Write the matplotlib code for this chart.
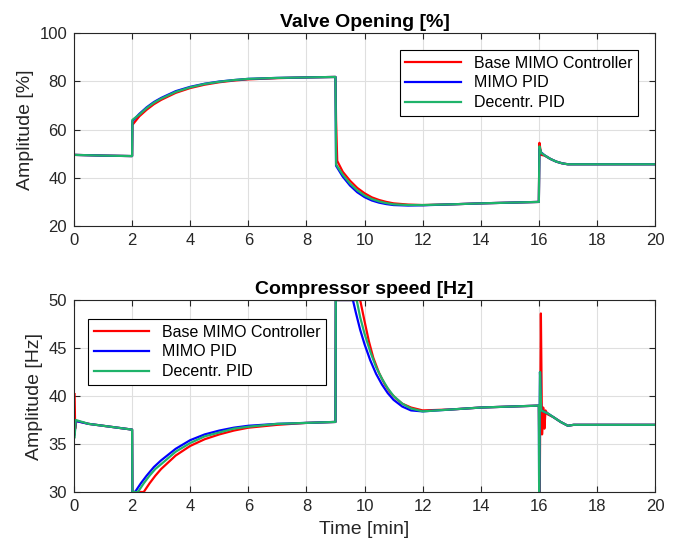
import matplotlib
matplotlib.use("Agg")
import matplotlib.pyplot as plt

plt.rcParams['font.family'] = ['Liberation Sans', 'DejaVu Sans']

# Valve opening [%] - (time, value) samples
valve_red_t = [0, 1, 2, 2.01, 2.05, 2.25, 2.5, 2.75, 3, 3.5, 4, 4.5, 5, 5.5, 6, 7, 8, 9,
               9.02, 9.06, 9.25, 9.5, 9.75, 10, 10.25, 10.5, 10.75, 11, 11.5, 12, 13, 14, 15, 16,
               16.02, 16.08, 16.2, 16.4, 16.6, 16.8, 17, 18, 20]
valve_red = [49.5, 49.2, 49.0, 62.0, 62.5, 65.5, 68.2, 70.5, 72.3, 75.2, 77.2, 78.6, 79.6, 80.3, 80.8, 81.3, 81.6, 81.8,
             64.0, 47.0, 42.5, 38.8, 35.8, 33.6, 31.9, 30.8, 30.0, 29.4, 28.9, 28.7, 29.0, 29.4, 29.7, 30.0,
             54.5, 49.5, 49.2, 47.8, 46.7, 46.0, 45.6, 45.6, 45.6]

valve_blue_t = [0, 1, 2, 2.01, 2.25, 2.5, 2.75, 3, 3.5, 4, 4.5, 5, 5.5, 6, 7, 8, 9,
                9.02, 9.25, 9.5, 9.75, 10, 10.25, 10.5, 10.75, 11, 11.5, 12, 13, 14, 15, 16,
                16.02, 16.08, 16.2, 16.4, 16.6, 16.8, 17, 18, 20]
valve_blue = [49.5, 49.2, 49.0, 63.5, 66.5, 69.2, 71.4, 73.1, 75.9, 77.7, 79.0, 79.9, 80.5, 81.0, 81.4, 81.6, 81.8,
              45.0, 40.5, 36.8, 34.0, 32.0, 30.6, 29.7, 29.1, 28.7, 28.5, 28.6, 29.0, 29.4, 29.7, 30.0,
              52.5, 50.5, 49.3, 47.8, 46.7, 46.0, 45.6, 45.6, 45.6]

valve_green_t = [0, 1, 2, 2.01, 2.25, 2.5, 2.75, 3, 3.5, 4, 4.5, 5, 5.5, 6, 7, 8, 9,
                 9.02, 9.25, 9.5, 9.75, 10, 10.25, 10.5, 10.75, 11, 11.5, 12, 13, 14, 15, 16,
                 16.02, 16.08, 16.2, 16.4, 16.6, 16.8, 17, 18, 20]
valve_green = [49.5, 49.2, 49.0, 64.0, 66.2, 68.9, 71.1, 72.8, 75.6, 77.5, 78.9, 79.8, 80.5, 81.0, 81.4, 81.6, 81.8,
               45.5, 41.3, 37.6, 34.8, 32.7, 31.2, 30.2, 29.5, 29.0, 28.7, 28.7, 29.0, 29.4, 29.7, 30.0,
               53.0, 50.3, 49.3, 47.8, 46.7, 46.0, 45.6, 45.6, 45.6]

# Compressor speed [Hz]
comp_red_t = [0.02, 0.04, 0.08, 0.5, 1, 1.5, 2, 2.01, 2.4, 2.6, 2.8, 3, 3.5, 4, 4.5, 5, 5.5, 6, 7, 8, 9,
              9.01, 9.85, 10, 10.15, 10.3, 10.5, 10.7, 10.9, 11.1, 11.3, 11.6, 12, 13, 14, 15, 16,
              16.03, 16.07, 16.11, 16.15, 16.19, 16.23, 16.3, 16.5, 16.75, 17, 17.2, 20]
comp_red = [40.2, 36.6, 37.4, 37.1, 36.9, 36.7, 36.5, 30, 30, 30.9, 31.7, 32.4, 33.8, 34.8, 35.5, 36.0, 36.4, 36.7, 37.0, 37.2, 37.3,
            50, 50, 47.8, 45.7, 44.0, 42.4, 41.2, 40.3, 39.7, 39.2, 38.8, 38.5, 38.6, 38.8, 38.9, 39.0,
            30, 48.6, 36.0, 38.8, 36.6, 38.5, 38.1, 37.8, 37.3, 36.9, 37.0, 37.0]

comp_blue_t = [0.02, 0.06, 0.5, 1, 1.5, 2, 2.01, 2.1, 2.3, 2.5, 2.75, 3, 3.5, 4, 4.5, 5, 5.5, 6, 7, 8, 9,
               9.01, 9.6, 9.7, 9.85, 10, 10.2, 10.4, 10.6, 10.8, 11, 11.3, 11.6, 12, 13, 14, 15, 16,
               16.01, 16.04, 16.08, 16.3, 16.5, 16.75, 17, 17.2, 20]
comp_blue = [36.0, 37.4, 37.1, 36.9, 36.7, 36.5, 30, 30, 30.9, 31.7, 32.6, 33.3, 34.5, 35.4, 36.0, 36.4, 36.7, 36.9, 37.1, 37.2, 37.3,
             50, 50, 48.7, 46.9, 45.4, 43.7, 42.3, 41.2, 40.3, 39.6, 38.9, 38.5, 38.4, 38.6, 38.8, 38.9, 39.0,
             30, 42.5, 38.5, 38.2, 37.8, 37.3, 36.9, 37.0, 37.0]

comp_green_t = [0.02, 0.06, 0.5, 1, 1.5, 2, 2.01, 2.2, 2.4, 2.6, 2.8, 3, 3.5, 4, 4.5, 5, 5.5, 6, 7, 8, 9,
                9.01, 9.73, 9.85, 10, 10.2, 10.4, 10.6, 10.8, 11, 11.3, 11.6, 12, 13, 14, 15, 16,
                16.01, 16.04, 16.08, 16.3, 16.5, 16.75, 17, 17.2, 20]
comp_green = [35.7, 37.5, 37.1, 36.9, 36.7, 36.5, 30, 30, 30.9, 31.7, 32.4, 32.9, 34.2, 35.1, 35.8, 36.2, 36.6, 36.8, 37.1, 37.2, 37.3,
              50, 50, 48.2, 46.5, 44.6, 43.0, 41.8, 40.8, 40.0, 39.2, 38.7, 38.4, 38.6, 38.8, 38.9, 39.0,
              30, 42.5, 38.5, 38.2, 37.8, 37.3, 36.9, 37.0, 37.0]

labels = ["Base MIMO Controller", "MIMO PID", "Decentr. PID"]
colors = ["#ff0000", "#0000ff", "#1fb36a"]
x_ticks = list(range(0, 21, 2))

fig = plt.figure(figsize=(6.82, 5.46), dpi=100)
ax1 = fig.add_axes([0.1085, 0.586, 0.852, 0.3535])
ax2 = fig.add_axes([0.1085, 0.0989, 0.852, 0.3516])

dark = "#262626"


def style(ax, yticks):
    ax.set_xlim(0, 20)
    ax.set_xticks(x_ticks)
    ax.set_yticks(yticks)
    ax.set_ylim(yticks[0], yticks[-1])
    ax.grid(True, color="#dfdfdf", linewidth=0.8)
    ax.set_axisbelow(True)
    ax.tick_params(direction="in", top=True, right=True, labelsize=12,
                   colors=dark, length=4, width=0.8, pad=5)
    for s in ax.spines.values():
        s.set_color(dark)
        s.set_linewidth(0.8)


ax1.plot(valve_red_t, valve_red, color=colors[0], lw=1.6, label=labels[0])
ax1.plot(valve_blue_t, valve_blue, color=colors[1], lw=1.6, label=labels[1])
ax1.plot(valve_green_t, valve_green, color=colors[2], lw=1.6, label=labels[2])
style(ax1, [20, 40, 60, 80, 100])
ax1.set_title("Valve Opening [%]", fontsize=14, fontweight="bold", pad=4)
ax1.set_ylabel("Amplitude [%]", fontsize=14, color=dark, labelpad=4)
leg1 = ax1.legend(loc="upper right", bbox_to_anchor=(0.9707, 0.912), borderaxespad=0,
                  fontsize=11.5, fancybox=False, edgecolor="black", framealpha=1,
                  handlelength=3.5, labelspacing=0.3, borderpad=0.35)
leg1.get_frame().set_linewidth(0.8)

ax2.plot(comp_red_t, comp_red, color=colors[0], lw=1.6, label=labels[0])
ax2.plot(comp_blue_t, comp_blue, color=colors[1], lw=1.6, label=labels[1])
ax2.plot(comp_green_t, comp_green, color=colors[2], lw=1.6, label=labels[2])
style(ax2, [30, 35, 40, 45, 50])
ax2.set_title("Compressor speed [Hz]", fontsize=14, fontweight="bold", pad=4)
ax2.set_ylabel("Amplitude [Hz]", fontsize=14, color=dark, labelpad=4)
ax2.set_xlabel("Time [min]", fontsize=14, color=dark, labelpad=5)
leg2 = ax2.legend(loc="upper left", bbox_to_anchor=(0.024, 0.901), borderaxespad=0,
                  fontsize=11.5, fancybox=False, edgecolor="black", framealpha=1,
                  handlelength=3.5, labelspacing=0.3, borderpad=0.35)
leg2.get_frame().set_linewidth(0.8)

fig.savefig("out.png", dpi=100)
